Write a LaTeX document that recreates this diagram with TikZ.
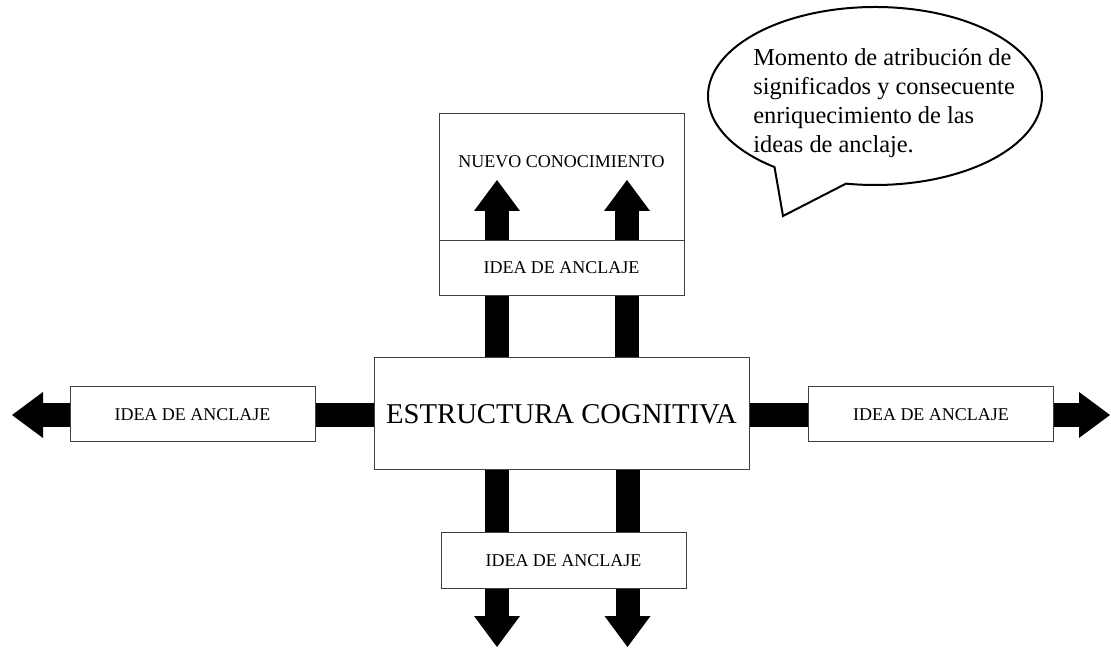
\documentclass[tikz,border=0pt]{standalone}
\usepackage{fontspec}
\setmainfont{Liberation Serif}
\usetikzlibrary{arrows.meta,backgrounds}
\begin{document}
\begin{tikzpicture}[x=0.75pt,y=-0.75pt,
  box/.style={draw=black!75, line width=0.75pt, fill=white, inner sep=0pt, font=\fontsize{13.5}{16}\selectfont},
  ideabox/.style={box, minimum width=183.75pt, minimum height=41.25pt},
  blockarrow/.style={line width=18pt, -{Triangle[width=34.5pt 0 0, length=23.25pt 0 0, line width=0pt 0 0]}},
  calltext/.style={anchor=base west, inner sep=0pt, font=\fontsize{18.3}{21.7}\selectfont}
]
\useasboundingbox (0,0) rectangle (1111,648);

% boxes
\node[box, fill=none, minimum width=183.75pt, minimum height=95.25pt] (N) at (561.5,177.5) {};
\node[inner sep=0pt, font=\fontsize{13.5}{16}\selectfont] (Ntext) at (561.5,162) {NUEVO CONOCIMIENTO};
\node[ideabox] (T) at (561.5,268) {IDEA DE ANCLAJE};
\node[box, minimum width=281.25pt, minimum height=84pt, font=\fontsize{21.5}{25}\selectfont] (C) at (561.5,414) {ESTRUCTURA COGNITIVA};
\node[ideabox] (L) at (192.5,414.5) {IDEA DE ANCLAJE};
\node[ideabox] (R) at (931,414.5) {IDEA DE ANCLAJE};
\node[ideabox] (B) at (563.5,560.5) {IDEA DE ANCLAJE};

% arrow tips
\coordinate (tTL) at (497,180);
\coordinate (tTR) at (627,180);
\coordinate (tBL) at (497,647);
\coordinate (tBR) at (627.5,647);
\coordinate (tL) at (12,415);
\coordinate (tR) at (1110,415);

\begin{scope}[on background layer]
  \draw[blockarrow] (C.center -| tTL) -- (tTL);
  \draw[blockarrow] (C.center -| tTR) -- (tTR);
  \draw[blockarrow] (C.center -| tBL) -- (tBL);
  \draw[blockarrow] (C.center -| tBR) -- (tBR);
  \draw[blockarrow] (C.center |- tL) -- (tL);
  \draw[blockarrow] (C.center |- tR) -- (tR);
\end{scope}

% callout
\draw[line width=1.5pt, fill=white] (875,96) ++(127:167 and 89)
  arc[start angle=127, end angle=460, x radius=167, y radius=89]
  -- (783,216) -- cycle;
\node[calltext] (c1) at (753,66) {Momento de atribución de};
\node[calltext] (c2) at (753,95) {significados y consecuente};
\node[calltext] (c3) at (753,124) {enriquecimiento de las};
\node[calltext] (c4) at (753,153) {ideas de anclaje.};
\end{tikzpicture}
\end{document}
